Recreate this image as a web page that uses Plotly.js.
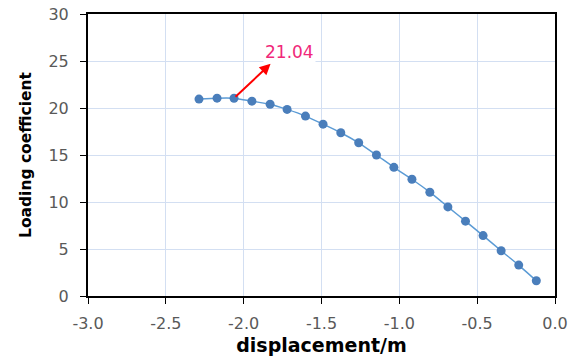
<!DOCTYPE html>
<html>
<head>
<meta charset="utf-8">
<script src="https://cdn.plot.ly/plotly-3.0.1.min.js"></script>
<style>html,body{margin:0;padding:0;background:#fff;}#chart{width:580px;height:363px;}</style>
</head>
<body>
<div id="chart"></div>
<script>
const displacement = [-2.287, -2.171, -2.062, -1.947, -1.830, -1.721, -1.603, -1.490, -1.376, -1.261, -1.147, -1.035, -0.919, -0.804, -0.688, -0.575, -0.462, -0.346, -0.233, -0.120];
const loading = [20.95, 21.05, 21.04, 20.73, 20.40, 19.85, 19.14, 18.28, 17.37, 16.30, 15.00, 13.69, 12.42, 11.04, 9.48, 7.96, 6.43, 4.81, 3.29, 1.62];
const peakIndex = 2;
const peakLabel = "21.04";
const xTickVals = [-3.0, -2.5, -2.0, -1.5, -1.0, -0.5, 0.0];
const xTickText = ["-3.0", "-2.5", "-2.0", "-1.5", "-1.0", "-0.5", "0.0"];
const yTickVals = [0, 5, 10, 15, 20, 25, 30];

const trace = {
  x: displacement, y: loading, type: 'scatter', mode: 'lines+markers',
  line: {color: '#5B9BD5', width: 1.5, shape: 'spline', smoothing: 0.5},
  marker: {color: '#4A7EBB', size: 9},
  hoverinfo: 'x+y'
};

const layout = {
  width: 580, height: 363,
  margin: {l: 88, r: 25, t: 14, b: 67},
  paper_bgcolor: '#fff', plot_bgcolor: '#fff',
  showlegend: false,
  font: {family: 'DejaVu Sans, sans-serif', color: '#595959', size: 16},
  xaxis: {
    range: [-3, 0], tickvals: xTickVals, ticktext: xTickText,
    showgrid: true, gridcolor: '#D3DFF2', gridwidth: 1,
    zeroline: false, showline: true, linecolor: '#000', linewidth: 2, mirror: true,
    ticks: 'outside', ticklen: 6, tickcolor: '#000', tickwidth: 1, ticklabelstandoff: 6,
    tickfont: {size: 16, color: '#595959'},
    title: {text: 'displacement/m', font: {size: 19, color: '#000', family: 'DejaVu Sans, sans-serif', weight: 'bold'}, standoff: 6}
  },
  yaxis: {
    range: [0, 30], tickvals: yTickVals,
    showgrid: true, gridcolor: '#D3DFF2', gridwidth: 1,
    zeroline: false, showline: true, linecolor: '#000', linewidth: 2, mirror: true,
    ticks: 'outside', ticklen: 6, tickcolor: '#000', tickwidth: 1, ticklabelstandoff: 8,
    tickfont: {size: 16, color: '#595959'},
    title: {text: 'Loading coefficient', font: {size: 15.5, color: '#000', family: 'DejaVu Sans, sans-serif', weight: 'bold'}, standoff: 13}
  },
  annotations: [
    {
      x: -1.827, y: 24.7, xref: 'x', yref: 'y',
      ax: displacement[peakIndex], ay: loading[peakIndex], axref: 'x', ayref: 'y',
      text: '', showarrow: true, arrowhead: 2, arrowsize: 1.1, arrowwidth: 2, arrowcolor: '#FF0000'
    },
    {
      x: -1.703, y: 25.97, xref: 'x', yref: 'y', showarrow: false,
      text: peakLabel, bgcolor: '#fff',
      font: {size: 17, color: '#F0287A', family: 'DejaVu Sans, sans-serif'}
    }
  ]
};

Plotly.newPlot('chart', [trace], layout, {displayModeBar: false, staticPlot: true});
</script>
</body>
</html>
